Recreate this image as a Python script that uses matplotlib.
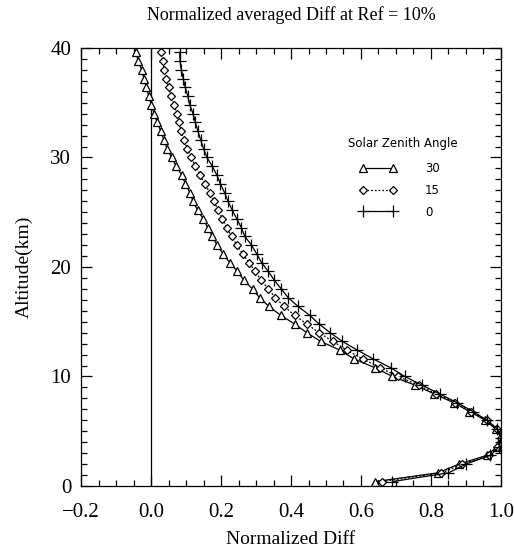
import matplotlib
matplotlib.use("Agg")
import matplotlib.pyplot as plt
from matplotlib.ticker import MultipleLocator

altitude = [0.4, 1.2, 2.0, 2.8, 3.6, 4.4, 5.2, 6.0, 6.8, 7.6, 8.4, 9.2, 10.0, 10.8,
            11.6, 12.4, 13.2, 14.0, 14.8, 15.6, 16.4, 17.2, 18.0, 18.8, 19.6, 20.4,
            21.2, 22.0, 22.8, 23.6, 24.4, 25.2, 26.0, 26.8, 27.6, 28.4, 29.2, 30.0,
            30.8, 31.6, 32.4, 33.2, 34.0, 34.8, 35.6, 36.4, 37.2, 38.0, 38.8, 39.6]

sza30 = [0.64, 0.82, 0.88, 0.96, 0.99, 1.00, 0.985, 0.955, 0.91, 0.865, 0.81, 0.755,
         0.69, 0.64, 0.58, 0.54, 0.485, 0.445, 0.41, 0.37, 0.337, 0.31, 0.29, 0.265,
         0.247, 0.225, 0.206, 0.189, 0.175, 0.162, 0.149, 0.133, 0.12, 0.111, 0.098,
         0.088, 0.072, 0.059, 0.046, 0.037, 0.028, 0.018, 0.009, 0.001, -0.006,
         -0.014, -0.02, -0.027, -0.036, -0.044]

sza15 = [0.66, 0.83, 0.89, 0.965, 0.99, 1.00, 0.99, 0.96, 0.915, 0.87, 0.815, 0.765,
         0.705, 0.655, 0.605, 0.56, 0.52, 0.48, 0.445, 0.41, 0.38, 0.355, 0.335, 0.315,
         0.297, 0.28, 0.262, 0.245, 0.23, 0.217, 0.204, 0.192, 0.18, 0.168, 0.153,
         0.14, 0.127, 0.115, 0.104, 0.094, 0.086, 0.08, 0.074, 0.066, 0.058, 0.05,
         0.043, 0.038, 0.033, 0.029]

sza0 = [0.69, 0.85, 0.90, 0.97, 0.995, 1.00, 0.99, 0.96, 0.92, 0.875, 0.825, 0.775,
        0.725, 0.685, 0.635, 0.59, 0.547, 0.512, 0.48, 0.453, 0.42, 0.392, 0.372, 0.352,
        0.335, 0.316, 0.302, 0.287, 0.268, 0.258, 0.245, 0.232, 0.22, 0.21, 0.198,
        0.188, 0.175, 0.16, 0.15, 0.142, 0.134, 0.127, 0.12, 0.111, 0.105, 0.098,
        0.092, 0.087, 0.083, 0.082]

labels = ["30", "15", "0"]
xticks = [-0.2, 0.0, 0.2, 0.4, 0.6, 0.8, 1.0]
xticklabels = ["\u22120.2", "0.0", "0.2", "0.4", "0.6", "0.8", "1.0"]
yticks = [0, 10, 20, 30, 40]

fig = plt.figure(figsize=(5.14, 5.53), dpi=100)
ax = fig.add_axes([0.1576, 0.1212, 0.8171, 0.7920])

serif = "Liberation Serif"
sans = "DejaVu Sans"

ax.axvline(0.0, color="black", lw=0.9)
ax.plot(sza30, altitude, color="black", lw=0.9, ls="-", marker="^", ms=6,
        mfc="white", mec="black", mew=0.9, label=labels[0])
ax.plot(sza15, altitude, color="black", lw=0.9, ls=(0, (1.5, 1.5)), marker="D", ms=4,
        mfc="white", mec="black", mew=0.9, label=labels[1])
ax.plot(sza0, altitude, color="black", lw=0.9, ls="-", marker="+", ms=8,
        mec="black", mew=0.9, label=labels[2])

ax.set_xlim(-0.2, 1.0)
ax.set_ylim(0, 40)
ax.set_xticks(xticks)
ax.set_xticklabels(xticklabels, fontfamily=serif, fontsize=15)
ax.set_yticks(yticks)
ax.set_yticklabels([str(v) for v in yticks], fontfamily=serif, fontsize=15)
ax.xaxis.set_minor_locator(MultipleLocator(0.05))
ax.yaxis.set_minor_locator(MultipleLocator(1))
ax.tick_params(which="both", direction="in", top=True, right=True, width=0.9)
ax.tick_params(which="major", length=8)
ax.tick_params(which="minor", length=4)
ax.tick_params(axis="x", which="major", pad=12)
ax.tick_params(axis="y", which="major", pad=7)
ax.set_xlim(-0.2, 1.0)
ax.set_ylim(0, 40)
for sp in ax.spines.values():
    sp.set_linewidth(0.9)

ax.set_xlabel("Normalized Diff", fontfamily=serif, fontsize=14, labelpad=7)
ax.set_ylabel("Altitude(km)", fontfamily=serif, fontsize=14, labelpad=13)
ax.set_title("Normalized averaged Diff at Ref = 10%", fontfamily=serif,
             fontsize=13, pad=20)

ax.text(0.767, 0.783, "Solar Zenith Angle", transform=ax.transAxes,
        ha="center", va="center", fontfamily=sans, fontsize=8.5)
leg = ax.legend(loc="upper left", bbox_to_anchor=(0.662, 0.740), frameon=False,
                numpoints=2, handlelength=3.2, handletextpad=2.4,
                labelspacing=0.75, borderpad=0, borderaxespad=0,
                prop={"family": sans, "size": 8.5})

fig.savefig("out.png", dpi=100)
